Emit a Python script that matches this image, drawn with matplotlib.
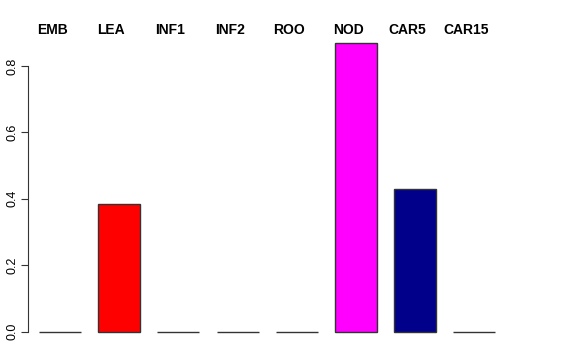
import matplotlib
matplotlib.use('Agg')
import matplotlib.pyplot as plt

plt.rcParams['font.family'] = ['Liberation Sans', 'DejaVu Sans']

tissues = ['EMB', 'LEA', 'INF1', 'INF2', 'ROO', 'NOD', 'CAR5', 'CAR15']
values = [0.0, 0.384, 0.0, 0.0, 0.0, 0.868, 0.428, 0.0]
colors = ['white', 'red', 'white', 'white', 'white', 'magenta', '#00008B', 'white']

W, H = 576, 360
fig = plt.figure(figsize=(W / 100, H / 100), dpi=100)
# axes box in pixels: left 28, right 505, bottom at y=331.5 (from top), 0.9 units tall
ax = fig.add_axes([28 / W, (H - 331.5) / H, (505 - 28) / W, 0.9 * 332 / H])

x = list(range(len(tissues)))
bars = ax.bar(x, values, width=0.71, color=colors, edgecolor='#333333', linewidth=1.0)
for b in bars:
    b.set_clip_on(False)  # otherwise the zero-height bars lose half their line

ax.set_xlim((28 - 60) / 59.2, (505 - 60) / 59.2)
ax.set_ylim(0, 0.9)

# labels sit a little left of the bar centres, like in the original
for xi, name in zip(x, tissues):
    ax.text(xi - 0.135, 0.908, name, ha='center', va='center', fontsize=10,
            fontweight='bold', clip_on=False)

for s in ['top', 'right', 'bottom']:
    ax.spines[s].set_visible(False)
ax.spines['left'].set_bounds(0, 0.8)
ax.spines['left'].set_color('#333333')
ax.set_xticks([])
ax.set_yticks([0.0, 0.2, 0.4, 0.6, 0.8])
ax.set_yticklabels(['0.0', '0.2', '0.4', '0.6', '0.8'], rotation=90, va='center')
ax.tick_params(axis='y', direction='out', length=5, width=0.8, labelsize=9, pad=2,
               color='#333333')

fig.savefig('out.png', dpi=100)
